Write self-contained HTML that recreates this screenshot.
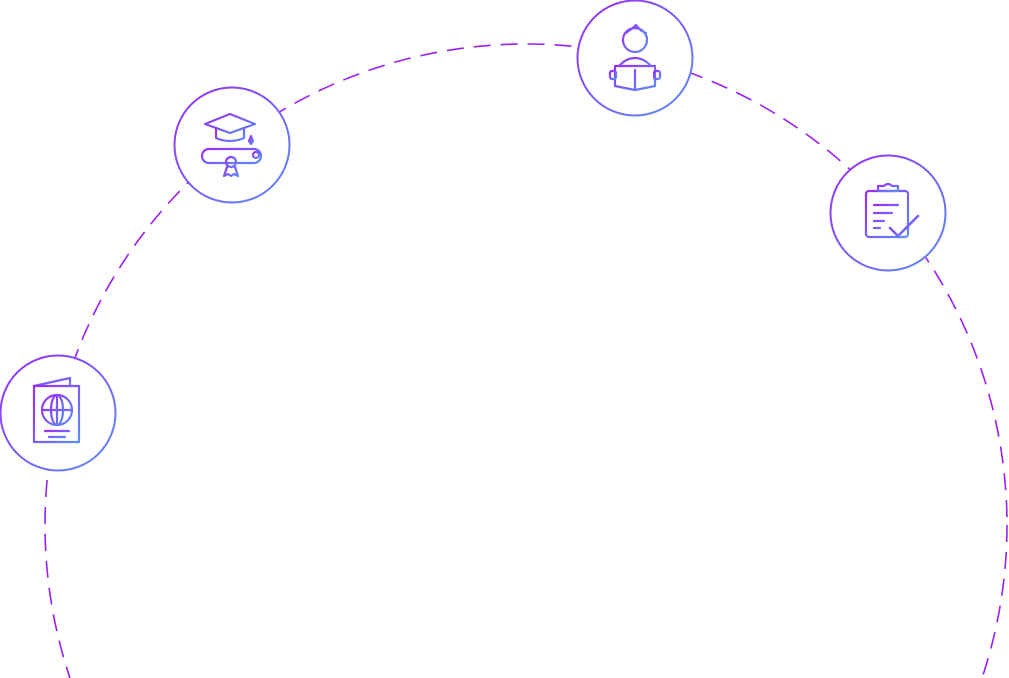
<!DOCTYPE html>
<html><head><style>html,body{margin:0;padding:0;background:#fff;width:1009px;height:678px;overflow:hidden}svg{display:block}</style></head>
<body>
<svg width="1009" height="678" viewBox="0 0 1009 678" xmlns="http://www.w3.org/2000/svg">
<defs>
<linearGradient id="g" x1="0" y1="0" x2="1" y2="1">
<stop offset="0" stop-color="#9b2cf5"/><stop offset="1" stop-color="#5b8ef8"/></linearGradient>
</defs>
<circle cx="526" cy="525" r="481" fill="none" stroke="#9b1ff2" stroke-width="1.6" stroke-dasharray="17 10"/>
<g fill="#fff" stroke="url(#g)" stroke-width="2">
<circle cx="635" cy="58" r="57.5"/>
<circle cx="232" cy="145" r="57.5"/>
<circle cx="888" cy="213" r="57.5"/>
<circle cx="58" cy="413" r="57.5"/>
</g>
<g fill="none" stroke="url(#g)" stroke-width="2.2" stroke-linejoin="round" stroke-linecap="round">
<path d="M205 124 L230 114 L255 124 L230 133 Z"/>
<path d="M216 128 V138 Q230 144 244 138 V128"/>
<path d="M251 124 V136"/><path d="M251 136 l-2 5 l2 3 l2 -3 z" fill="#6a7af7"/>
<rect x="202" y="149" width="59" height="14" rx="7"/>
<circle cx="256" cy="155" r="3"/>
<circle cx="231" cy="162" r="5"/>
<path d="M227 167 l-3 9 l4 -2 l3 2 l3 -2 l4 2 l-3 -9"/>
<circle cx="635" cy="40" r="12"/>
<path d="M626 33 Q633 28 636 25 Q640 31 646 33"/>
<path d="M620 65 Q627 58 635 58 Q643 58 650 65"/>
<path d="M615 66 H655 M615 66 V86 L635 90 L655 86 V66 M635 70 V90"/>
<rect x="610" y="71" width="6" height="8" rx="2"/><rect x="654" y="71" width="6" height="8" rx="2"/>
<rect x="866" y="191" width="42" height="46" rx="3"/>
<path d="M878 191 V186 H884 Q888 182 892 186 H898 V191 Z"/>
<path d="M874 205 H898 M874 213 H892 M874 221 H884 M874 228 H880"/>
<path d="M890 228 L898 236 L918 216" stroke-width="2.6"/>
<path d="M34 386 L70 378 V386"/>
<rect x="34" y="386" width="45" height="56"/>
<circle cx="57" cy="410" r="15"/>
<ellipse cx="57" cy="410" rx="6" ry="15"/>
<path d="M42 410 H72 M57 395 V425"/>
<path d="M45 431 H69 M49 437 H65"/>
</g>
</svg>
</body></html>
